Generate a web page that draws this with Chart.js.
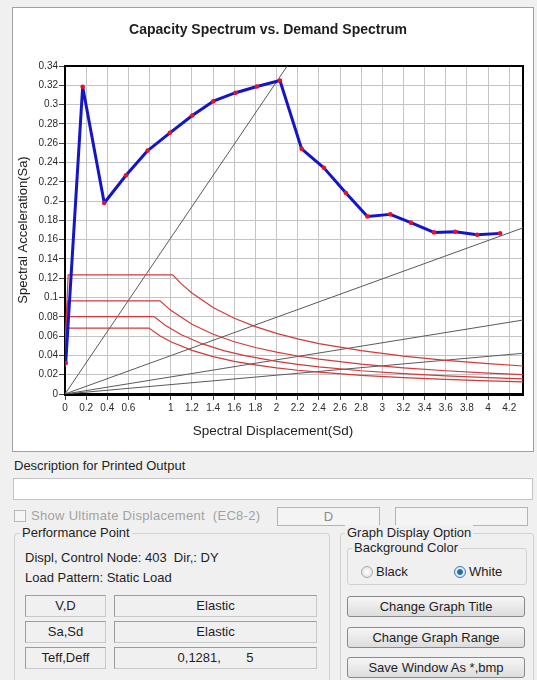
<!DOCTYPE html>
<html>
<head>
<meta charset="utf-8">
<script src="https://cdn.jsdelivr.net/npm/chart.js@4.4.1/dist/chart.umd.min.js"></script>
<style>
body { margin:0; width:537px; height:680px; background:#f0f0f0; overflow:hidden; position:relative;
  font-family:"Liberation Sans", Arial, sans-serif; font-size:13px; color:#1e1e1e; }
.a { position:absolute; white-space:pre; line-height:16px; }
#panel { left:12px; top:7px; width:520px; height:443px; border:1px solid #a0a0a0; background:#fff; }
.box { position:absolute; border:1px solid #b4b4b4; background:#fff; }
.grp { position:absolute; border:1px solid #d2d2d2; border-radius:3px; }
.lbl { position:absolute; background:#f0f0f0; padding:0 2px; line-height:16px; white-space:pre; }
.cell { position:absolute; height:20px; line-height:20px; text-align:center; white-space:pre;
  border:1px solid #c8c8c8; border-top-color:#9c9c9c; border-left-color:#9c9c9c; }
.btn { position:absolute; left:347px; width:176px; height:19px; line-height:19px; text-align:center;
  border:1px solid #8a8a8a; border-radius:3px; background:linear-gradient(#f6f6f6,#dddddd); }
.radio { position:absolute; width:10px; height:10px; border-radius:50%; border:1px solid #a8a8a8;
  background:radial-gradient(#ffffff,#dcdcdc); }
</style>
</head>
<body>
<div id="panel" class="a"><canvas id="chart" width="520" height="443"></canvas></div>

<div class="a" style="left:14px;top:458px;">Description for Printed Output</div>
<div class="box" style="left:13px;top:478px;width:518px;height:20px;border-color:#c4c4c4;"></div>

<div class="box" style="left:14px;top:510px;width:10px;height:10px;background:#f6f6f6;border-color:#b8b8b8;"></div>
<div class="a" style="left:31px;top:508px;color:#a2a2a2;letter-spacing:0.3px;">Show Ultimate Displacement  (EC8-2)</div>
<div class="box" style="left:277px;top:507px;width:101px;height:17px;background:#f4f4f4;text-align:center;line-height:17px;color:#8c8c8c;">D</div>
<div class="box" style="left:395px;top:507px;width:131px;height:17px;background:#f4f4f4;"></div>

<div class="grp" style="left:14px;top:533px;width:314px;height:170px;"></div>
<div class="lbl" style="left:20px;top:525px;">Performance Point</div>
<div class="a" style="left:25px;top:550px;">Displ, Control Node: 403  Dir,: DY</div>
<div class="a" style="left:25px;top:570px;">Load Pattern: Static Load</div>
<div class="cell" style="left:25px;top:595px;width:79px;">V,D</div>
<div class="cell" style="left:114px;top:595px;width:201px;">Elastic</div>
<div class="cell" style="left:25px;top:621px;width:79px;">Sa,Sd</div>
<div class="cell" style="left:114px;top:621px;width:201px;">Elastic</div>
<div class="cell" style="left:25px;top:647px;width:79px;">Teff,Deff</div>
<div class="cell" style="left:114px;top:647px;width:201px;">0,1281,       5</div>

<div class="grp" style="left:340px;top:533px;width:192px;height:170px;"></div>
<div class="lbl" style="left:345px;top:525px;">Graph Display Option</div>
<div class="grp" style="left:347px;top:548px;width:178px;height:35px;"></div>
<div class="lbl" style="left:352px;top:540px;">Background Color</div>
<div class="radio" style="left:361px;top:566px;"></div>
<div class="a" style="left:376px;top:564px;">Black</div>
<div class="radio" style="left:454px;top:566px;border-color:#3d7cab;background:radial-gradient(#1a63a8 0,#2a78c0 2.5px,#e8f2fb 3.5px,#d6e6f3 5px);"></div>
<div class="a" style="left:469px;top:564px;">White</div>
<div class="btn" style="top:596px;">Change Graph Title</div>
<div class="btn" style="top:627px;">Change Graph Range</div>
<div class="btn" style="top:657px;">Save Window As *,bmp</div>

<script>
// capacity curve (Sd, Sa)
const capSd = [0.007, 0.167, 0.371, 0.577, 0.782, 0.992, 1.203, 1.402, 1.613, 1.815, 2.032,
               2.237, 2.448, 2.656, 2.859, 3.075, 3.27, 3.488, 3.689, 3.897, 4.114];
const capSa = [0.0322, 0.3185, 0.198, 0.2267, 0.2523, 0.2707, 0.2887, 0.3035, 0.3123, 0.3188, 0.325,
               0.2541, 0.2344, 0.2084, 0.1841, 0.1862, 0.1776, 0.1675, 0.1682, 0.1651, 0.1665];

// demand spectra (red)
const dem1Sd = [0, 0.03, 1.018, 1.1, 1.2, 1.4, 1.6, 1.8, 2.0, 2.2, 2.4, 2.8, 3.2, 3.6, 4.0, 4.4];
const dem1Sa = [0.05, 0.1234, 0.1234, 0.1142, 0.1047, 0.0897, 0.0785, 0.0698, 0.0628, 0.0571, 0.0523, 0.0449, 0.0393, 0.0349, 0.0314, 0.0285];
const dem2Sd = [0, 0.025, 0.898, 1.0, 1.2, 1.4, 1.6, 1.8, 2.0, 2.2, 2.4, 2.8, 3.2, 3.6, 4.0, 4.4];
const dem2Sa = [0.04, 0.0965, 0.0965, 0.0867, 0.0723, 0.0619, 0.0542, 0.0482, 0.0434, 0.0394, 0.0361, 0.031, 0.0271, 0.0241, 0.0217, 0.0197];
const dem3Sd = [0, 0.02, 0.841, 0.95, 1.1, 1.3, 1.5, 1.7, 2.0, 2.2, 2.4, 2.8, 3.2, 3.6, 4.0, 4.4];
const dem3Sa = [0.033, 0.0803, 0.0803, 0.0711, 0.0614, 0.0519, 0.045, 0.0397, 0.0338, 0.0307, 0.0281, 0.0241, 0.0211, 0.0188, 0.0169, 0.0153];
const dem4Sd = [0, 0.02, 0.794, 0.9, 1.0, 1.2, 1.4, 1.6, 1.8, 2.0, 2.2, 2.4, 2.8, 3.2, 3.6, 4.0, 4.4];
const dem4Sa = [0.028, 0.0683, 0.0683, 0.0602, 0.0542, 0.0452, 0.0387, 0.0339, 0.0301, 0.0271, 0.0246, 0.0226, 0.0194, 0.0169, 0.0151, 0.0136, 0.0123];

// period lines from origin (gray): end points
const periodSd = [2.2, 4.4, 4.4, 4.4];
const periodSa = [0.356, 0.175, 0.0779, 0.0429];

const xMax = 4.33, yMax = 0.34;
const chartTitle = 'Capacity Spectrum vs. Demand Spectrum';
const xTitle = 'Spectral Displacement(Sd)';
const yTitle = 'Spectral Acceleration(Sa)';

const toPts = (xs, ys) => xs.map((x, i) => ({x: x, y: ys[i]}));
const fmt = v => String(Number(v.toFixed(2)));

const datasets = [{
  data: toPts(capSd, capSa), showLine: true, borderColor: '#1414c8', borderWidth: 3,
  borderJoinStyle: 'round', borderCapStyle: 'round',
  pointRadius: 2.3, pointBackgroundColor: '#e8102a', pointBorderWidth: 0
}];
[[dem1Sd, dem1Sa], [dem2Sd, dem2Sa], [dem3Sd, dem3Sa], [dem4Sd, dem4Sa]].forEach(d => {
  datasets.push({ data: toPts(d[0], d[1]), showLine: true, borderColor: '#d23a3a', borderWidth: 1.2, pointRadius: 0 });
});
periodSd.forEach((sd, i) => {
  datasets.push({ data: [{x: 0, y: 0}, {x: sd, y: periodSa[i]}], showLine: true, borderColor: '#5a5a5a', borderWidth: 1, pointRadius: 0 });
});

const frame = {
  id: 'frame',
  beforeDatasetsDraw(chart) {
    const {ctx, chartArea: a} = chart;
    ctx.save();
    ctx.strokeStyle = '#000';
    ctx.lineWidth = 2;
    ctx.strokeRect(a.left, a.top, a.right - a.left, a.bottom - a.top);
    ctx.restore();
  },
  afterDraw(chart) {
    const ctx = chart.ctx;
    ctx.save();
    ctx.font = '13.5px "Liberation Sans", Arial, sans-serif';
    ctx.fillStyle = '#222';
    ctx.textAlign = 'center';
    ctx.textBaseline = 'middle';
    ctx.fillText(xTitle, chart.width / 2, 423);
    ctx.restore();
  }
};

Chart.defaults.font.family = '"Liberation Sans", Arial, sans-serif';
Chart.defaults.color = '#2a2a2a';

new Chart(document.getElementById('chart'), {
  type: 'scatter',
  data: { datasets: datasets },
  plugins: [frame],
  options: {
    responsive: false,
    animation: false,
    devicePixelRatio: 1,
    layout: { padding: { left: 0, right: 10, top: 0, bottom: 0 } },
    plugins: {
      legend: { display: false },
      tooltip: { enabled: false },
      title: { display: true, text: chartTitle, color: '#1e1e1e',
        font: { size: 14, weight: 'bold' }, padding: { top: 13.6, bottom: 27.6 } }
    },
    scales: {
      x: {
        type: 'linear', min: 0, max: xMax,
        afterFit: s => { s.height = 57; },
        grid: { color: '#c4c4c4', tickColor: '#444', tickLength: 6 },
        border: { color: '#000', width: 3 },
        ticks: { stepSize: 0.2, includeBounds: false, autoSkip: false, maxRotation: 0, padding: 2,
          font: { size: 10 },
          callback: v => Math.abs(v - 0.8) < 1e-6 ? '' : fmt(v) }
      },
      y: {
        type: 'linear', min: 0, max: yMax,
        afterFit: s => { s.width = 52; },
        grid: { color: '#c4c4c4', tickColor: '#444', tickLength: 6 },
        border: { color: '#000', width: 2 },
        title: { display: true, text: yTitle, font: { size: 13 }, color: '#222', padding: { top: 2.2, bottom: 0 } },
        ticks: { stepSize: 0.02, autoSkip: false, padding: 1, font: { size: 10 }, callback: v => fmt(v) }
      }
    }
  }
});
</script>
</body>
</html>
